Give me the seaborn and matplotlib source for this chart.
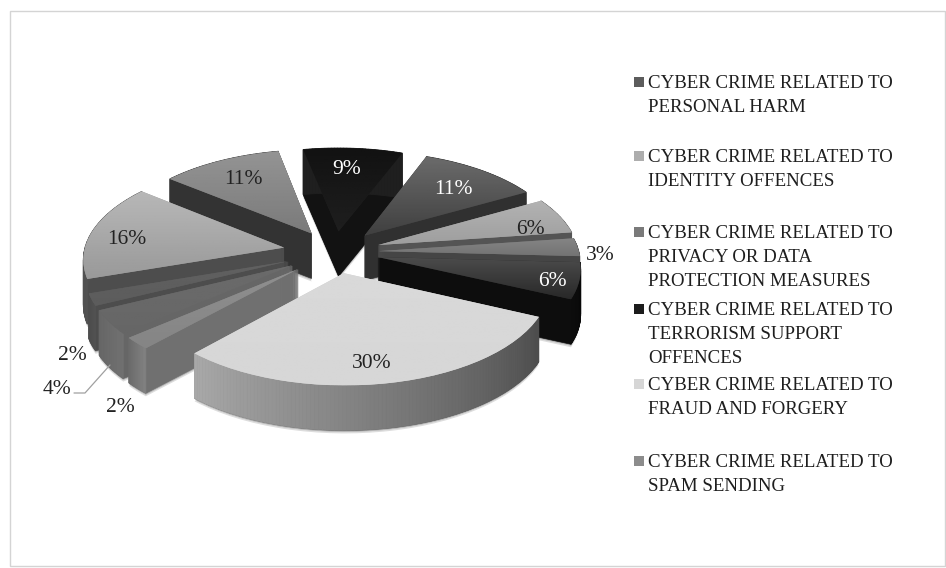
import numpy as np
import matplotlib
matplotlib.use("Agg")
import matplotlib.pyplot as plt
from matplotlib.patches import Wedge, Rectangle
from matplotlib.transforms import Transform
import seaborn as sns

# Share of each offence type, clockwise from the upper right
shares = [11, 6, 3, 6, 30, 2, 4, 2, 16, 11, 9]
explode = [0.23, 0.23, 0.22, 0.22, 0.22, 0.25, 0.25, 0.25, 0.26, 0.23, 0.22]

legend_entries = [
    "CYBER CRIME RELATED TO\nPERSONAL HARM",
    "CYBER CRIME RELATED TO\nIDENTITY OFFENCES",
    "CYBER CRIME RELATED TO\nPRIVACY OR DATA\nPROTECTION MEASURES",
    "CYBER CRIME RELATED TO\nTERRORISM SUPPORT\nOFFENCES",
    "CYBER CRIME RELATED TO\nFRAUD AND FORGERY",
    "CYBER CRIME RELATED TO\nSPAM SENDING",
]
legend_swatches = ["#5c5c5c", "#adadad", "#7a7a7a", "#1c1c1c", "#d6d6d6", "#8c8c8c"]
legend_tops = [82, 156, 232, 309, 384, 461]

# Grey levels for each slice: face top, face bottom, wall, rim start, rim end
face_top = [0.42, 0.70, 0.52, 0.30, 0.85, 0.56, 0.42, 0.38, 0.72, 0.58, 0.07]
face_bottom = [0.25, 0.62, 0.45, 0.16, 0.84, 0.52, 0.40, 0.36, 0.60, 0.48, 0.12]
wall_grey = [0.19, 0.33, 0.27, 0.05, 0.30, 0.44, 0.40, 0.30, 0.30, 0.20, 0.07]
rim_start = [0.19, 0.33, 0.27, 0.03, 0.30, 0.50, 0.44, 0.32, 0.32, 0.20, 0.12]
rim_end = [0.19, 0.33, 0.27, 0.05, 0.66, 0.42, 0.40, 0.30, 0.30, 0.20, 0.12]

label_xy = [(453, 190), (530, 229), (600, 255), (552, 282), (372, 363), (120, 408),
            (57, 390), (72, 356), (127, 240), (243, 180), (347, 170)]
label_colours = ["white", "#222222", "#222222", "white", "#222222", "#222222",
                 "#222222", "#222222", "#222222", "#222222", "white"]

sns.set_theme(style="white")
plt.rcParams["font.family"] = ["Liberation Serif", "DejaVu Serif"]

CENTRE_X, CENTRE_Y = 335, 252
SCALE_X, SCALE_Y = 200, 96
TILT = 0.103
DEPTH = 45


class TiltedPlane(Transform):
    """Projects the unit pie plane onto the canvas as a receding disc."""
    input_dims = output_dims = 2
    is_separable = False
    has_inverse = False

    def __init__(self, drop=0):
        super().__init__()
        self.drop = drop

    def transform_non_affine(self, values):
        values = np.asarray(values, dtype=float)
        w = 1 + TILT * values[:, 1]
        return np.column_stack([
            CENTRE_X + SCALE_X * values[:, 0] / w,
            CENTRE_Y + self.drop - SCALE_Y * values[:, 1] / w,
        ])


fig = plt.figure(figsize=(9.46, 5.68), dpi=100)
ax = fig.add_axes([0, 0, 1, 1])
wedges, _ = ax.pie(shares, explode=explode, startangle=69, counterclock=False,
                   radius=1, center=(0, 0))
ax.set_aspect("auto")

plane = TiltedPlane()


def mid_height(w):
    mid = np.deg2rad((w.theta1 + w.theta2) / 2)
    return np.sin(mid)


# Paint from the back of the disc towards the viewer
order = sorted(range(len(wedges)), key=lambda i: -mid_height(wedges[i]))
for rank, i in enumerate(order):
    w = wedges[i]
    base = 10 + rank * 10
    wall = str(wall_grey[i])

    # Soft contact shadow below the body
    for drop, alpha in [(DEPTH + 3, 0.2), (DEPTH + 1.5, 0.3)]:
        ax.add_patch(Wedge(w.center, w.r, w.theta1, w.theta2, facecolor="#555555",
                           edgecolor="none", alpha=alpha, zorder=base - 1,
                           transform=TiltedPlane(drop) + ax.transData))

    # Extruded body: stacked copies of the slice outline
    for drop in range(DEPTH, 0, -1):
        layer = Wedge(w.center, w.r, w.theta1, w.theta2, facecolor=wall,
                      edgecolor=wall, linewidth=0.5, zorder=base,
                      transform=TiltedPlane(drop) + ax.transData)
        ax.add_patch(layer)

    # Shaded outer rim
    angles = np.linspace(w.theta1, w.theta2, max(int(w.theta2 - w.theta1), 3) + 1)
    ring = np.column_stack([w.center[0] + w.r * np.cos(np.deg2rad(angles)),
                            w.center[1] + w.r * np.sin(np.deg2rad(angles))])
    pts = plane.transform_non_affine(ring)
    tones = np.linspace(rim_end[i], rim_start[i], len(pts) - 1)
    for k, tone in enumerate(tones):
        ax.fill([pts[k, 0], pts[k + 1, 0], pts[k + 1, 0], pts[k, 0]],
                [pts[k, 1], pts[k + 1, 1], pts[k + 1, 1] + DEPTH, pts[k, 1] + DEPTH],
                color=str(tone), linewidth=0.6, zorder=base + 1)

    # Top face with a vertical sheen
    w.set_transform(plane + ax.transData)
    w.set_facecolor(str(face_bottom[i]))
    w.set_edgecolor("none")
    w.set_zorder(base + 2)
    box = plane.transform_path(w.get_path()).get_extents()
    sheen = np.linspace(face_top[i], face_bottom[i], 64).reshape(-1, 1)
    im = ax.imshow(sheen, extent=(box.x0, box.x1, box.y1, box.y0), cmap="gray",
                   vmin=0, vmax=1, aspect="auto", zorder=base + 3)
    im.set_clip_path(w)

# Percentage labels
for share, (x, y), colour in zip(shares, label_xy, label_colours):
    ax.text(x, y, f"{share}%", ha="center", va="center", color=colour,
            fontsize=15.5, zorder=500)

# Leader from the 4% slice
ax.plot([110, 85, 74], [365, 393, 393], color="#a0a0a0", linewidth=0.9, zorder=500)

# Legend column
for text, swatch, top in zip(legend_entries, legend_swatches, legend_tops):
    ax.scatter([639], [top], marker="s", s=50, color=swatch, linewidths=0, zorder=500)
    ax.text(648, top - 7, text, ha="left", va="top", color="#1e1e1e", fontsize=13.6,
            linespacing=1.55, zorder=500)

# Chart frame
ax.add_patch(Rectangle((10, 11), 935, 555, fill=False, edgecolor="#d4d4d4",
                       linewidth=1, zorder=1))

ax.set_xlim(0, 946)
ax.set_ylim(568, 0)
ax.axis("off")
fig.savefig("out.png", dpi=100, facecolor="white")
